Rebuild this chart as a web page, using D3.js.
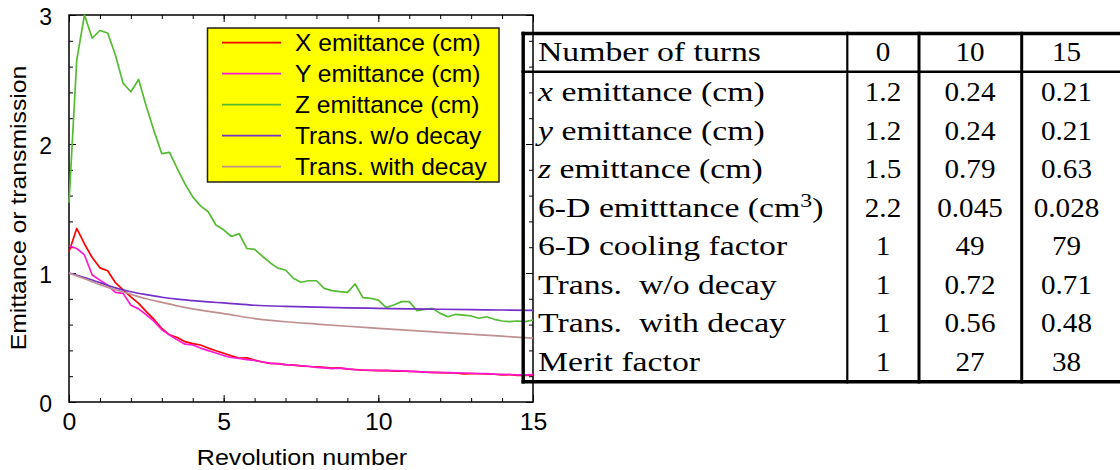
<!DOCTYPE html>
<html>
<head>
<meta charset="utf-8">
<script src="https://cdn.jsdelivr.net/npm/d3@7"></script>
<style>
  body { margin: 0; background: #fff; }
  svg { display: block; }
</style>
</head>
<body>
<svg id="chart"></svg>
<script>
const width = 1120
const height = 470

// revolution number, sampled every quarter turn
const rev = d3.range(0, 15.001, 0.25)

const xEmit = [
  1.165, 1.345, 1.225, 1.12,   1.04, 1.018, 0.925, 0.87,
  0.815, 0.765, 0.70, 0.64,    0.57, 0.52, 0.50, 0.468,
  0.452, 0.442, 0.418, 0.397,  0.378, 0.358, 0.34, 0.343,
  0.325, 0.31, 0.30, 0.298,    0.29, 0.286, 0.28, 0.275,
  0.272, 0.268, 0.262, 0.265,  0.255, 0.252, 0.247, 0.245,
  0.243, 0.245, 0.24, 0.242,   0.238, 0.236, 0.232, 0.23,
  0.228, 0.226, 0.225, 0.218,  0.22, 0.219, 0.217, 0.215,
  0.21, 0.212, 0.207, 0.206,   0.208
]
const yEmit = [
  1.21, 1.19, 1.14, 0.985,     0.945, 0.905, 0.85, 0.842,
  0.75, 0.722, 0.676, 0.625,   0.56, 0.52, 0.482, 0.448,
  0.442, 0.418, 0.398, 0.38,   0.36, 0.345, 0.338, 0.328,
  0.322, 0.31, 0.302, 0.295,   0.29, 0.287, 0.28, 0.277,
  0.268, 0.265, 0.258, 0.262,  0.257, 0.25, 0.248, 0.246,
  0.245, 0.243, 0.244, 0.242,  0.24, 0.235, 0.232, 0.23,
  0.227, 0.228, 0.226, 0.225,  0.223, 0.22, 0.22, 0.216,
  0.214, 0.213, 0.21, 0.211,   0.212
]
const zEmit = [
  1.545, 2.65, 3.0, 2.82,      2.88, 2.86, 2.69, 2.47,
  2.405, 2.50, 2.29, 2.10,     1.925, 1.935, 1.81, 1.69,
  1.59, 1.52, 1.475, 1.372,    1.335, 1.283, 1.305, 1.19,
  1.183, 1.13, 1.08, 1.038,    1.023, 0.959, 0.928, 0.94,
  0.94, 0.881, 0.863, 0.855,   0.85, 0.915, 0.809, 0.804,
  0.79, 0.734, 0.752, 0.778,   0.778, 0.708, 0.718, 0.726,
  0.687, 0.661, 0.68, 0.674,   0.667, 0.649, 0.661, 0.641,
  0.628, 0.623, 0.628, 0.623,  0.636
]

// transmissions are smooth, fewer samples
const revT = [0, 0.5, 1, 1.5, 2, 2.5, 3, 3.5, 4, 4.5, 5, 6, 7, 8, 9, 10, 11, 12, 13, 14, 15]
const transNoDecay = [1.0, 0.965, 0.925, 0.885, 0.855, 0.832, 0.812, 0.797, 0.786, 0.776, 0.768,
  0.750, 0.741, 0.735, 0.730, 0.726, 0.722, 0.719, 0.716, 0.713, 0.711]
const transDecay = [1.0, 0.955, 0.91, 0.87, 0.835, 0.80, 0.772, 0.745, 0.722, 0.702, 0.685,
  0.647, 0.622, 0.604, 0.587, 0.571, 0.555, 0.540, 0.525, 0.51, 0.494]

const seriesNames = ['X emittance (cm)', 'Y emittance (cm)', 'Z emittance (cm)', 'Trans. w/o decay', 'Trans. with decay']
const seriesColors = ['#ff0000', '#ff19d4', '#55bb33', '#7430c8', '#c09090']

const xTicks = [0, 5, 10, 15]
const yTicks = [0, 1, 2, 3]

// table
const tableHead = ['Number of turns', '0', '10', '15']
const rowLabels = ['x emittance (cm)', 'y emittance (cm)', 'z emittance (cm)', '6-D emitttance (cm^3)',
  '6-D cooling factor', 'Trans.\u2002w/o decay', 'Trans.\u2002with decay', 'Merit factor']
const turns0 = ['1.2', '1.2', '1.5', '2.2', '1', '1', '1', '1']
const turns10 = ['0.24', '0.24', '0.79', '0.045', '49', '0.72', '0.56', '27']
const turns15 = ['0.21', '0.21', '0.63', '0.028', '79', '0.71', '0.48', '38']

const sans = '"Liberation Sans", Arial, Helvetica, sans-serif'
const serif = '"Liberation Serif", "Times New Roman", serif'

const svg = d3.select('#chart').attr('width', width).attr('height', height)

const plot = { left: 69, right: 533, top: 15, bottom: 402 }

const x = d3.scaleLinear().domain([0, 15]).range([plot.left, plot.right])
const y = d3.scaleLinear().domain([0, 3]).range([plot.bottom, plot.top])

function stretch(sel, px, py, sx) {
  return sel.attr('transform', `translate(${px},${py}) scale(${sx},1)`)
}

// ticks on all four sides, pointing inward
const minorX = d3.range(0, 16, 1)
const minorY = d3.range(0, 3.01, 0.2)

function tickAxis(axis, pos, vals, size) {
  const g = svg.append('g').attr('transform', pos)
    .call(axis.tickValues(vals).tickSize(size).tickFormat(''))
  g.select('.domain').remove()
  g.selectAll('line').attr('stroke', '#000').attr('stroke-width', 1)
  return g
}
tickAxis(d3.axisBottom(x), `translate(0,${plot.bottom})`, minorX, -4)
tickAxis(d3.axisBottom(x), `translate(0,${plot.bottom})`, xTicks, -7)
tickAxis(d3.axisTop(x), `translate(0,${plot.top})`, minorX, -4)
tickAxis(d3.axisTop(x), `translate(0,${plot.top})`, xTicks, -7)
tickAxis(d3.axisLeft(y), `translate(${plot.left},0)`, minorY, -4)
tickAxis(d3.axisLeft(y), `translate(${plot.left},0)`, yTicks, -7)
tickAxis(d3.axisRight(y), `translate(${plot.right},0)`, minorY, -4)
tickAxis(d3.axisRight(y), `translate(${plot.right},0)`, yTicks, -7)

// tick labels
const xLab = svg.append('g').attr('transform', `translate(0,${plot.bottom})`)
  .call(d3.axisBottom(x).tickValues(xTicks).tickSize(0).tickFormat(d3.format('d')))
xLab.select('.domain').remove()
xLab.selectAll('text')
  .attr('y', 28).attr('dy', 0)
  .attr('transform', 'scale(1.08,1)')
  .style('font-family', sans).style('font-size', '23px').attr('fill', '#000')

const yLab = svg.append('g').attr('transform', `translate(${plot.left},0)`)
  .call(d3.axisLeft(y).tickValues(yTicks).tickSize(0).tickFormat(d3.format('d')))
yLab.select('.domain').remove()
yLab.selectAll('text')
  .attr('x', -17).attr('dy', '0.4em')
  .style('font-family', sans).style('font-size', '23px').attr('fill', '#000')

// frame
svg.append('rect')
  .attr('x', plot.left).attr('y', plot.top)
  .attr('width', plot.right - plot.left).attr('height', plot.bottom - plot.top)
  .attr('fill', 'none').attr('stroke', '#000').attr('stroke-width', 1.5)

// axis titles
stretch(svg.append('text'), 302, 465, 1.14)
  .attr('text-anchor', 'middle')
  .style('font-family', sans).style('font-size', '22px')
  .text('Revolution number')

svg.append('text')
  .attr('transform', 'translate(25.5,208) rotate(-90) scale(1.125,1)')
  .attr('text-anchor', 'middle')
  .style('font-family', sans).style('font-size', '22px')
  .text('Emittance or transmission')

// curves
const series = [
  { xs: rev, ys: xEmit, curve: d3.curveLinear },
  { xs: rev, ys: yEmit, curve: d3.curveLinear },
  { xs: rev, ys: zEmit, curve: d3.curveLinear },
  { xs: revT, ys: transNoDecay, curve: d3.curveMonotoneX },
  { xs: revT, ys: transDecay, curve: d3.curveMonotoneX }
]

const lines = svg.append('g').attr('class', 'lines')
series.forEach((s, i) => {
  const pts = s.xs.map((v, j) => [v, s.ys[j]])
  const line = d3.line().x(d => x(d[0])).y(d => y(d[1])).curve(s.curve)
  lines.append('path')
    .datum(pts)
    .attr('d', line)
    .attr('fill', 'none')
    .attr('stroke', seriesColors[i])
    .attr('stroke-width', 1.7)
    .attr('stroke-linejoin', 'round')
})

// legend
const leg = svg.append('g').attr('class', 'legend')
leg.append('rect')
  .attr('x', 207.5).attr('y', 28)
  .attr('width', 291.5).attr('height', 154)
  .attr('fill', '#ffff00').attr('stroke', '#222').attr('stroke-width', 1.5)
seriesNames.forEach((name, i) => {
  const ly = 42.7 + i * 31
  leg.append('line')
    .attr('x1', 222).attr('x2', 281).attr('y1', ly).attr('y2', ly)
    .attr('stroke', seriesColors[i]).attr('stroke-width', 1.7)
  stretch(leg.append('text'), 295, ly + 8.3, 1.07)
    .style('font-family', sans).style('font-size', '23px')
    .text(name)
})

// table (transparent, drawn over the right edge of the plot)
const tbl = svg.append('g').attr('class', 'table')
const colX = [538, 883, 970, 1066.5]
const headBase = 60.5
const rowBase = d3.range(rowLabels.length).map(i => 101 + i * 38.5)

function hline(yy, w) {
  tbl.append('line').attr('x1', 521.5).attr('x2', 1120).attr('y1', yy).attr('y2', yy)
    .attr('stroke', '#000').attr('stroke-width', w)
}
function vline(xx, w) {
  tbl.append('line').attr('x1', xx).attr('x2', xx).attr('y1', 31.8).attr('y2', 383.4)
    .attr('stroke', '#000').attr('stroke-width', w)
}
hline(33.5, 3.4)
hline(71.7, 2.4)
hline(381.7, 3.4)
vline(523.2, 3.4)
vline(847.3, 2.2)
vline(919, 3)
vline(1021.7, 3)

function label(text, px, py) {
  const t = stretch(tbl.append('text'), px, py, 1.25)
    .style('font-family', serif).style('font-size', '27px')
  const m = text.match(/^([xyz])( .*)$/)
  let rest = text
  if (m) {
    t.append('tspan').style('font-style', 'italic').text(m[1])
    rest = m[2]
  }
  const sup = rest.split('^')
  t.append('tspan').text(sup[0])
  if (sup.length > 1) {
    t.append('tspan').attr('dy', -10).style('font-size', '19px').text(sup[1][0])
    t.append('tspan').attr('dy', 10).text(sup[1].slice(1))
  }
  return t
}
function num(text, px, py) {
  return stretch(tbl.append('text'), px, py, 1.04)
    .attr('text-anchor', 'middle')
    .style('font-family', serif).style('font-size', '28px')
    .text(text)
}

label(tableHead[0], colX[0], headBase)
tableHead.slice(1).forEach((h, i) => num(h, colX[i + 1], headBase))

rowLabels.forEach((lab, i) => {
  label(lab, colX[0], rowBase[i])
  num(turns0[i], colX[1], rowBase[i])
  num(turns10[i], colX[2], rowBase[i])
  num(turns15[i], colX[3], rowBase[i])
})
</script>
</body>
</html>
